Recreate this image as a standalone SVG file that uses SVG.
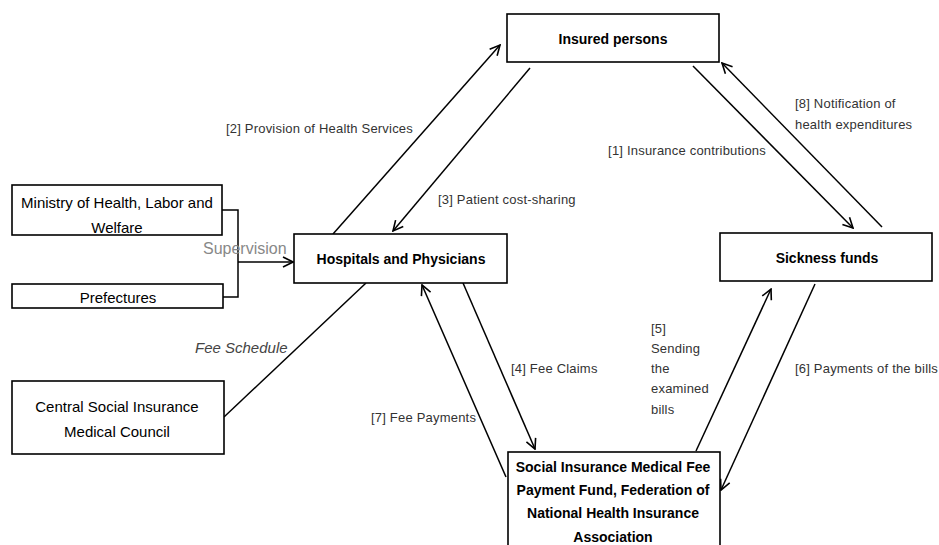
<svg xmlns="http://www.w3.org/2000/svg" width="939" height="545" viewBox="0 0 939 545">
<style>
.box{fill:#fff;stroke:#000;stroke-width:1.6}
.bt{font-family:"Liberation Sans",Arial,sans-serif;font-size:15px;text-anchor:middle;dominant-baseline:central;fill:#000}
.b{font-weight:bold;font-size:14px}
.lbl{font-family:"Liberation Sans",Arial,sans-serif;font-size:13px;fill:#333;dominant-baseline:central;letter-spacing:0.2px}
.ln{stroke:#000;stroke-width:1.5;fill:none}
</style>
<defs>
<marker id="arr" viewBox="0 0 12 12" refX="11" refY="6" markerWidth="12" markerHeight="12" markerUnits="userSpaceOnUse" orient="auto">
<path d="M1,1 L11,6 L1,11" fill="none" stroke="#000" stroke-width="1.6"/>
</marker>
</defs>
<rect width="939" height="545" fill="#fff"/>
<g id="connectors">
<polyline class="ln" points="222,210 238,210 238,297 223,297"/>
<line class="ln" x1="238" y1="262" x2="293" y2="262" marker-end="url(#arr)"/>
<line class="ln" x1="224" y1="417" x2="366" y2="283"/>
<line class="ln" x1="333" y1="234" x2="500" y2="45" marker-end="url(#arr)"/>
<line class="ln" x1="530" y1="68" x2="393" y2="231" marker-end="url(#arr)"/>
<line class="ln" x1="693" y1="66" x2="853" y2="228" marker-end="url(#arr)"/>
<line class="ln" x1="882" y1="227" x2="722" y2="63" marker-end="url(#arr)"/>
<line class="ln" x1="463" y1="283" x2="535" y2="449" marker-end="url(#arr)"/>
<line class="ln" x1="506" y1="477" x2="422" y2="285" marker-end="url(#arr)"/>
<line class="ln" x1="696" y1="451" x2="771" y2="289" marker-end="url(#arr)"/>
<line class="ln" x1="815" y1="284" x2="721" y2="490" marker-end="url(#arr)"/>
<text class="lbl" x="413" y="128" text-anchor="end">[2] Provision of Health Services</text>
<text class="lbl" x="438" y="199">[3] Patient cost-sharing</text>
<text class="lbl" x="766" y="150" text-anchor="end">[1] Insurance contributions</text>
<text class="lbl" x="795" y="103" fill="#222">[8] Notification of</text>
<text class="lbl" x="795" y="124" fill="#222">health expenditures</text>
<text class="lbl" x="511" y="368">[4] Fee Claims</text>
<text class="lbl" x="371" y="417">[7] Fee Payments</text>
<text class="lbl" x="651" y="328">[5]</text>
<text class="lbl" x="651" y="348">Sending</text>
<text class="lbl" x="651" y="368">the</text>
<text class="lbl" x="651" y="388">examined</text>
<text class="lbl" x="651" y="409">bills</text>
<text class="lbl" x="795" y="368">[6] Payments of the bills</text>
<text class="lbl" x="203" y="248" style="font-size:16px;fill:#888;letter-spacing:0">Supervision</text>
<text class="lbl" x="195" y="347" style="font-size:15px;font-style:italic;fill:#444;letter-spacing:0">Fee Schedule</text>
</g>
<g id="insured">
<rect class="box" x="507" y="14" width="212" height="48"/>
<text class="bt b" x="613" y="39">Insured persons</text>
</g>
<g id="ministry">
<rect class="box" x="12" y="185" width="210" height="50"/>
<text class="bt" x="117" y="202">Ministry of Health, Labor and</text>
<text class="bt" x="117" y="227">Welfare</text>
</g>
<g id="prefectures">
<rect class="box" x="12" y="284" width="211" height="24"/>
<text class="bt" x="118" y="297">Prefectures</text>
</g>
<g id="hospitals">
<rect class="box" x="294" y="234" width="213" height="49"/>
<text class="bt b" x="401" y="259">Hospitals and Physicians</text>
</g>
<g id="sickness">
<rect class="box" x="720" y="233" width="212" height="48"/>
<text class="bt b" x="827" y="258">Sickness funds</text>
</g>
<g id="central">
<rect class="box" x="12" y="381" width="212" height="73"/>
<text class="bt" x="117" y="406">Central Social Insurance</text>
<text class="bt" x="117" y="431">Medical Council</text>
</g>
<g id="social">
<rect class="box" x="508" y="452" width="212" height="110"/>
<text class="bt b" x="613" y="467">Social Insurance Medical Fee</text>
<text class="bt b" x="613" y="490">Payment Fund, Federation of</text>
<text class="bt b" x="613" y="513">National Health Insurance</text>
<text class="bt b" x="613" y="537">Association</text>
</g>
</svg>
